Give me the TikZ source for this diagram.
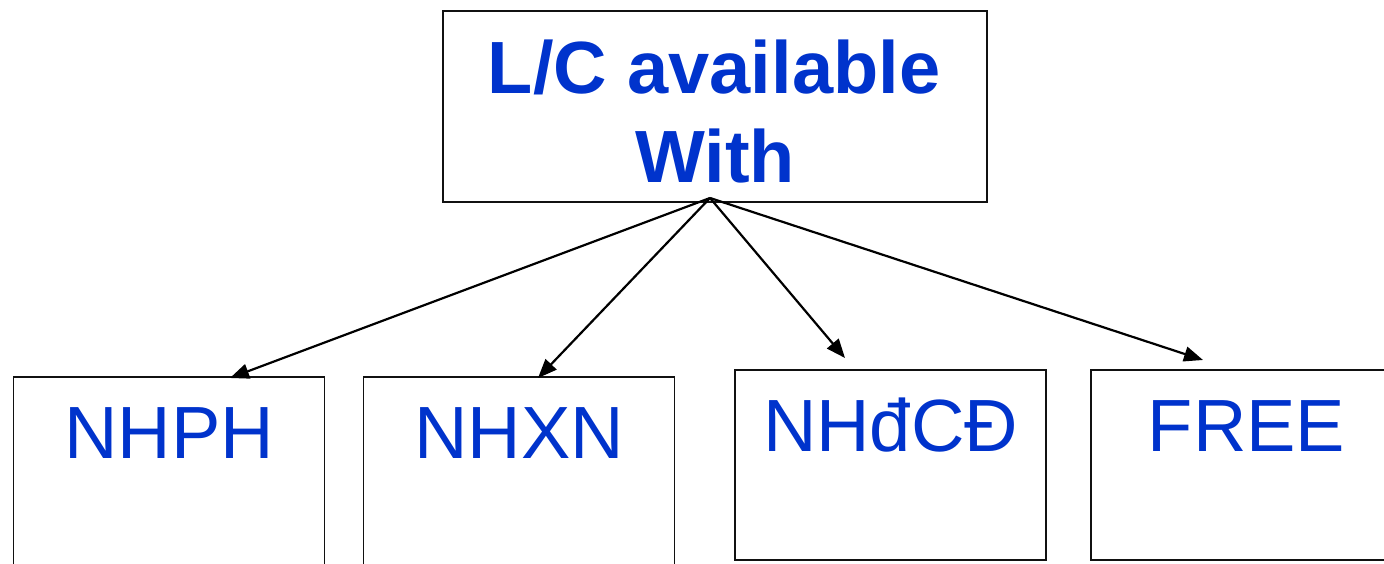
\documentclass[tikz,border=0pt]{standalone}
\usepackage{fontspec}
\setmainfont{Liberation Sans}
\usepackage{xcolor}
\usepackage{tikz}
\usetikzlibrary{positioning, arrows.meta, calc}
\definecolor{lcblue}{HTML}{0033CC}
\definecolor{framegray}{HTML}{111111}

\begin{document}
\begin{tikzpicture}[
      x=1pt, y=1pt,
      topbox/.style={rectangle, draw=framegray, fill=white, line width=1.8pt,
        minimum width=544pt, minimum height=191pt, inner sep=0pt},
      bankbox/.style={rectangle, draw=framegray, fill=white, line width=1.8pt,
        minimum width=311pt, minimum height=190pt, inner sep=0pt},
      toplab/.style={font=\fontsize{74}{89}\selectfont\bfseries, text=lcblue, inner sep=0pt, anchor=base},
      banklab/.style={font=\fontsize{74}{89}\selectfont, text=lcblue, inner sep=0pt, anchor=base},
      myarrow/.style={-{Triangle[length=19pt, width=15pt]}, line width=2.2pt, color=black}
    ]
    \useasboundingbox[fill=white] (0,0) rectangle (1384,563);
    \clip (0,0) rectangle (1384,563);
    % Top box
    \node[topbox] (lc) at (715, 456.5) {};
    \node[toplab] (lc1) at ($(lc.north)+(-1,-83)$) {L/C available};
    \node[toplab] (lc2) at ($(lc.north)+(0,-172)$) {With};
    \coordinate (apex) at (710, 365);
    % Row of banks
    \node[bankbox] (nhph) at (169, 91) {};
    \node[bankbox] (nhxn) at (519, 91) {};
    \node[bankbox] (nhdcd) at (890.5, 98) {};
    \node[bankbox] (free) at (1246.5, 98) {};
    \node[banklab] at ($(nhph.north)+(0,-82)$) {NHPH};
    \node[banklab] at ($(nhxn.north)+(0,-82)$) {NHXN};
    \node[banklab] at ($(nhdcd.north)+(0,-82)$) {NHđCĐ};
    \node[banklab] at ($(free.north)+(0,-82)$) {FREE};
    % Arrow ends
    \coordinate (e1) at (230, 185);
    \coordinate (e2) at (538, 185);
    \coordinate (e3) at (845, 205);
    \coordinate (e4) at (1203, 203);
    \draw[myarrow] (apex) -- (e1);
    \draw[myarrow] (apex) -- (e2);
    \draw[myarrow] (apex) -- (e3);
    \draw[myarrow] (apex) -- (e4);
\end{tikzpicture}
\end{document}
